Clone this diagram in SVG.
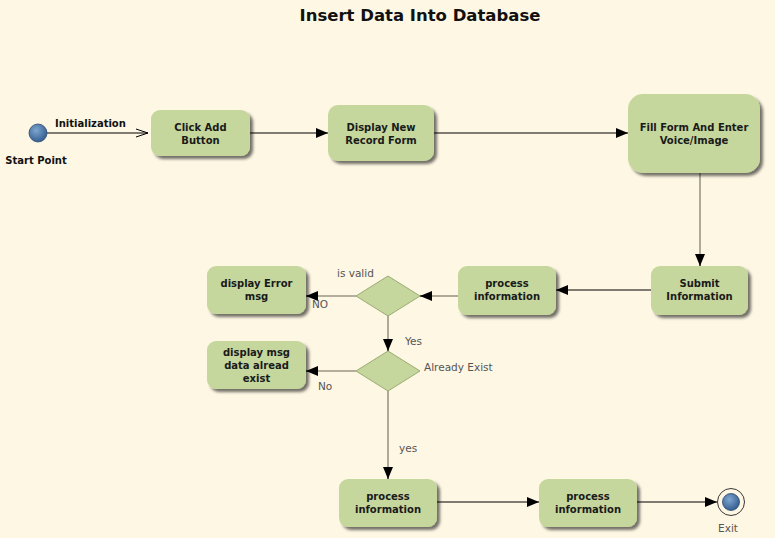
<svg xmlns="http://www.w3.org/2000/svg" width="775" height="538" viewBox="0 0 775 538">
<defs>
<filter id="sh" x="-20%" y="-20%" width="150%" height="150%">
<feDropShadow dx="3" dy="3" stdDeviation="1.8" flood-color="#000" flood-opacity="0.55"/>
</filter>
<radialGradient id="ball" cx="40%" cy="35%" r="65%">
<stop offset="0" stop-color="#7ea6d0"/>
<stop offset="1" stop-color="#355f92"/>
</radialGradient>
<marker id="fa" viewBox="0 0 12 10" refX="12" refY="5" markerWidth="12" markerHeight="10" markerUnits="userSpaceOnUse" orient="auto">
<path d="M0,0 L12,5 L0,10 Z" fill="#000"/>
</marker>
<marker id="oa" viewBox="0 0 12 10" refX="12" refY="5" markerWidth="12" markerHeight="10" markerUnits="userSpaceOnUse" orient="auto">
<path d="M0,1 L12,5 L0,9" fill="none" stroke="#000" stroke-width="1"/>
</marker>
</defs>
<style>
.node{fill:#c5d79c;filter:url(#sh)}
.dia{fill:#c5d79c;stroke:#9aab73;stroke-width:1}
.t{font-family:"DejaVu Sans",Verdana,sans-serif;font-weight:bold;font-size:10px;fill:#1a1a1a;text-anchor:middle}
.lb{font-family:"DejaVu Sans",Verdana,sans-serif;font-size:10.5px;fill:#555}
.e{stroke:#000;stroke-width:1.2;fill:none}
.g{stroke:#9a9585;stroke-width:1.6;fill:none}
</style>
<rect width="775" height="538" fill="#fef7e4"/>
<text x="420" y="21" font-family="'DejaVu Sans',Verdana,sans-serif" font-weight="bold" font-size="16.5px" fill="#111" text-anchor="middle">Insert Data Into Database</text>

<g id="connectors">
<line class="e" x1="47" y1="133" x2="148" y2="133" marker-end="url(#oa)"/>
<text class="lb" x="55" y="127" style="font-weight:bold;fill:#111;font-size:10px">Initialization</text>
<line class="e" x1="250" y1="133" x2="328" y2="133" marker-end="url(#fa)"/>
<line class="e" x1="434" y1="133" x2="628" y2="133" marker-end="url(#fa)"/>
<line class="g" x1="700" y1="173" x2="700" y2="255"/>
<line class="e" x1="700" y1="254" x2="700" y2="266" marker-end="url(#fa)"/>
<line class="e" x1="651" y1="290" x2="556" y2="290" marker-end="url(#fa)"/>
<line class="g" x1="458" y1="296" x2="432" y2="296"/>
<line class="e" x1="432" y1="296" x2="420" y2="296" marker-end="url(#fa)"/>
<line class="g" x1="356" y1="296" x2="318" y2="296"/>
<line class="e" x1="318" y1="296" x2="306" y2="296" marker-end="url(#fa)"/>
<text class="lb" x="337" y="277">is valid</text>
<text class="lb" x="312" y="308">NO</text>
<line class="g" x1="388" y1="316" x2="388" y2="340"/>
<line class="e" x1="388" y1="339" x2="388" y2="351" marker-end="url(#fa)"/>
<text class="lb" x="405" y="345">Yes</text>
<line class="g" x1="356" y1="371" x2="318" y2="371"/>
<line class="e" x1="318" y1="371" x2="306" y2="371" marker-end="url(#fa)"/>
<text class="lb" x="424" y="371">Already Exist</text>
<text class="lb" x="318" y="390">No</text>
<line class="g" x1="388" y1="391" x2="388" y2="468"/>
<line class="e" x1="388" y1="467" x2="388" y2="479" marker-end="url(#fa)"/>
<text class="lb" x="399" y="452">yes</text>
<line class="e" x1="437" y1="502" x2="539" y2="502" marker-end="url(#fa)"/>
<line class="e" x1="637" y1="502" x2="717" y2="502" marker-end="url(#fa)"/>
</g>

<g id="start">
<circle cx="38" cy="133" r="9" fill="url(#ball)" stroke="#2b4a70" stroke-width="0.8"/>
<text x="36" y="164" font-family="'DejaVu Sans',Verdana,sans-serif" font-weight="bold" font-size="10px" fill="#111" text-anchor="middle">Start Point</text>
</g>
<g id="clickAdd">
<rect class="node" x="151" y="110" width="99" height="46" rx="9"/>
<text class="t" x="200.5" y="131">Click Add</text>
<text class="t" x="200.5" y="144">Button</text>
</g>
<g id="displayNew">
<rect class="node" x="328" y="105" width="106" height="56" rx="10"/>
<text class="t" x="381" y="131">Display New</text>
<text class="t" x="381" y="144">Record Form</text>
</g>
<g id="fillForm">
<rect class="node" x="628" y="94" width="132" height="79" rx="15"/>
<text class="t" x="694" y="131">Fill Form And Enter</text>
<text class="t" x="694" y="144">Voice/Image</text>
</g>
<g id="submit">
<rect class="node" x="651" y="266" width="97" height="49" rx="9"/>
<text class="t" x="699.5" y="287">Submit</text>
<text class="t" x="699.5" y="300">Information</text>
</g>
<g id="process1">
<rect class="node" x="458" y="266" width="98" height="49" rx="9"/>
<text class="t" x="507" y="287">process</text>
<text class="t" x="507" y="300">information</text>
</g>
<g id="isValid">
<polygon class="dia" points="388,276 420,296 388,316 356,296"/>
</g>
<g id="errorMsg">
<rect class="node" x="207" y="266" width="99" height="48" rx="9"/>
<text class="t" x="256.5" y="287">display Error</text>
<text class="t" x="256.5" y="300">msg</text>
</g>
<g id="alreadyExist">
<polygon class="dia" points="388,351 420,371 388,391 356,371"/>
</g>
<g id="existMsg">
<rect class="node" x="207" y="341" width="99" height="48" rx="9"/>
<text class="t" x="256.5" y="356">display msg</text>
<text class="t" x="256.5" y="369">data alread</text>
<text class="t" x="256.5" y="382">exist</text>
</g>
<g id="process2">
<rect class="node" x="339" y="479" width="98" height="48" rx="9"/>
<text class="t" x="388" y="500">process</text>
<text class="t" x="388" y="513">information</text>
</g>
<g id="process3">
<rect class="node" x="539" y="479" width="98" height="48" rx="9"/>
<text class="t" x="588" y="500">process</text>
<text class="t" x="588" y="513">information</text>
</g>
<g id="exit">
<circle cx="731" cy="502" r="13.5" fill="#fef7e4" stroke="#222" stroke-width="0.9"/>
<circle cx="731" cy="502" r="8.5" fill="url(#ball)" stroke="#2b4a70" stroke-width="0.8"/>
<text class="lb" x="728" y="532" text-anchor="middle">Exit</text>
</g>
</svg>
